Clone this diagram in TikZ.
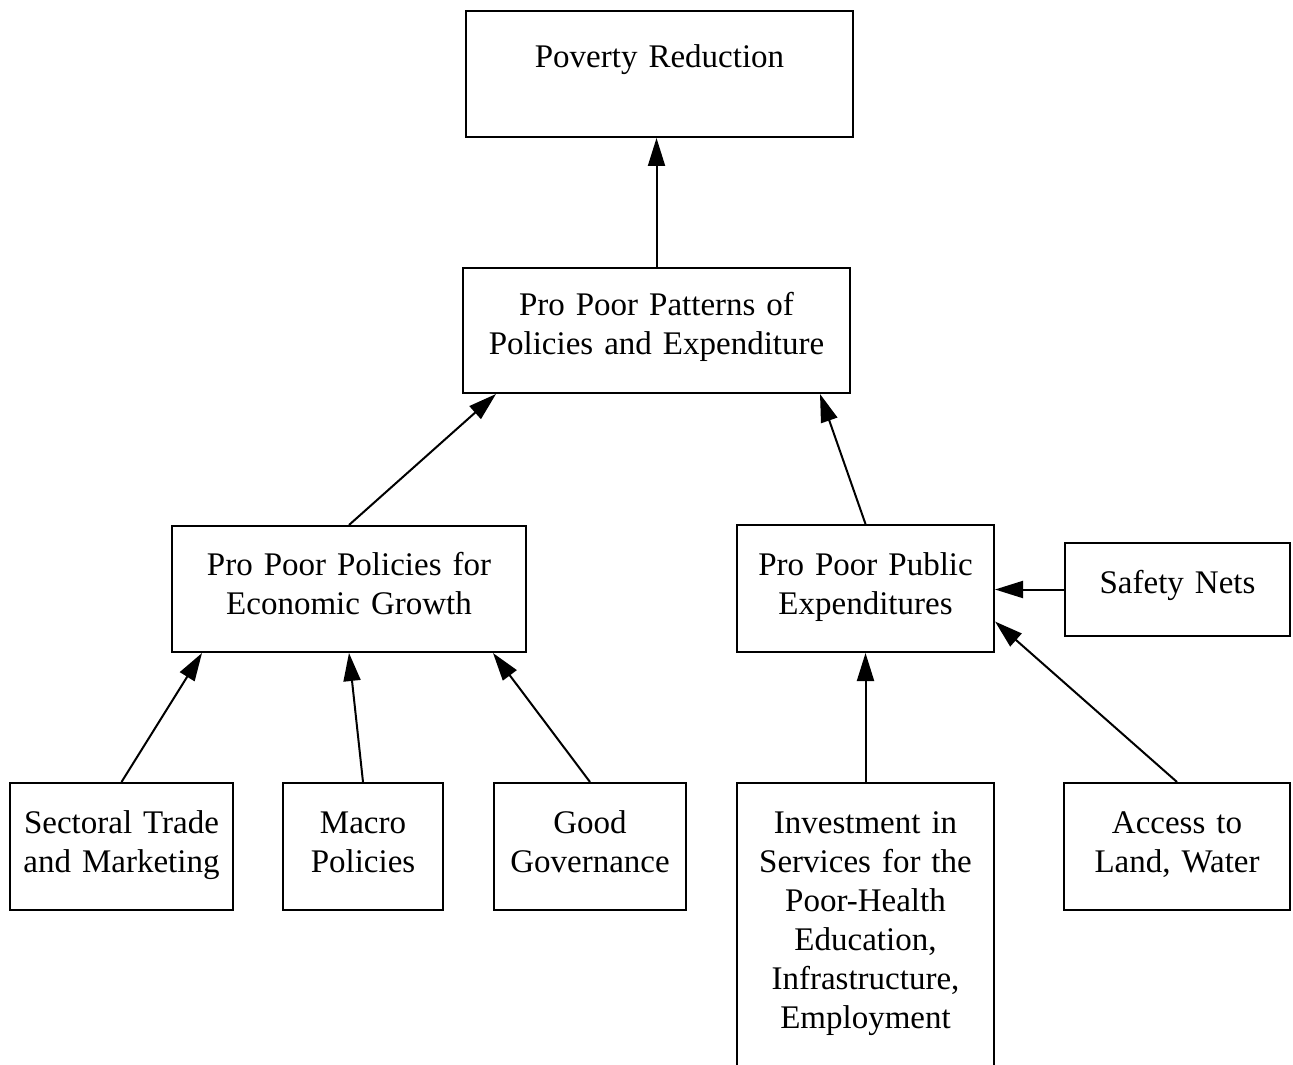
\documentclass[tikz,border=0pt]{standalone}
\usepackage{fontspec}
\setmainfont{Liberation Serif}
\usepackage{tikz}
\usetikzlibrary{arrows.meta}

\begin{document}
\begin{tikzpicture}[x=0.5pt, y=-0.5pt,
    box/.style={draw, line width=1pt, inner sep=0pt, align=center, text height=25pt, text depth=38.5pt,
        font=\fontsize{16.5}{19.5}\selectfont},
    arr/.style={-{Triangle[length=14pt, width=8.5pt]}, line width=1pt}]
                \clip (0,0) rectangle (1293,1064);
                \node [box, text width=193.5pt, text height=28.5pt, text depth=34.5pt] (poverty) at (659.5,74) {Poverty Reduction};
                \node [box, text width=193.5pt, text height=23.5pt, text depth=39pt] (patterns) at (656.5,330.5) {Pro Poor Patterns of\\Policies and Expenditure};
                \node [box, text width=177pt, text height=24.5pt] (growth) at (349,589) {Pro Poor Policies for\\Economic Growth};
                \node [box, text width=128.5pt] (public) at (865.5,588.5) {Pro Poor Public\\Expenditures};
                \node [box, text width=112.5pt, text depth=21.5pt] (safety) at (1177.5,589.5) {Safety Nets};
                \node [box, text width=111.5pt] (sectoral) at (121.5,846.5) {Sectoral Trade\\and Marketing};
                \node [box, text width=80pt] (macro) at (363,846.5) {Macro\\Policies};
                \node [box, text width=96pt] (governance) at (590,846.5) {Good\\Governance};
                \node [box, text width=128.5pt, text depth=125.5pt] (investment) at (865.5,933.5) {Investment in\\Services for the\\Poor-Health\\Education,\\Infrastructure,\\Employment};
                \node [box, text width=113pt] (access) at (1177,846.5) {Access to\\Land, Water};
                % links up the tree
                \draw [arr] (patterns.north) -- (patterns.north |- poverty.south);
                \draw [arr] (growth.north) -- ([xshift=17pt]patterns.south west);
                \draw [arr] (public.north) -- ([xshift=-15.5pt]patterns.south east);
                \draw [arr] (safety.west) -- (safety.west -| public.east);
                \draw [arr] (sectoral.north) -- ([xshift=15.5pt]growth.south west);
                \draw [arr] (macro.north) -- (growth.south);
                \draw [arr] (governance.north) -- ([xshift=-17pt]growth.south east);
                \draw [arr] (investment.north) -- (public.south);
                \draw [arr] (access.north) -- ([yshift=-16.5pt]public.east);
            \end{tikzpicture}
\end{document}
